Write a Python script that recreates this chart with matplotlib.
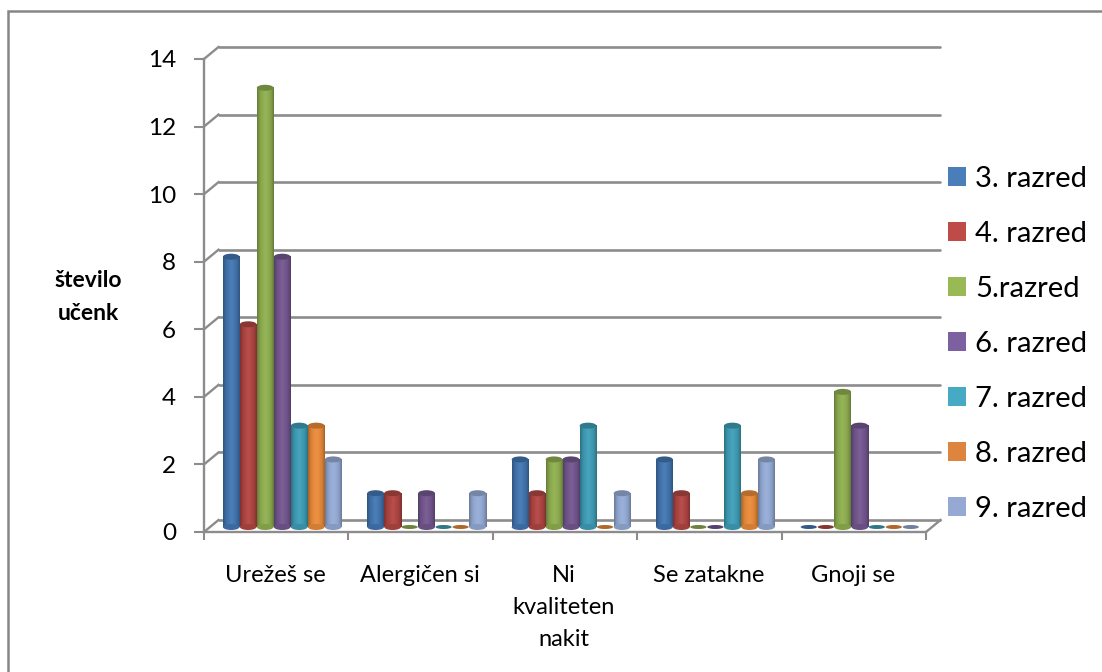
import numpy as np
import matplotlib
matplotlib.use("Agg")
import matplotlib.pyplot as plt
from matplotlib.lines import Line2D
from matplotlib.patches import Ellipse, Patch
from matplotlib.transforms import Affine2D
from matplotlib.colors import LinearSegmentedColormap, to_rgb

plt.rcParams['font.family'] = ['Lato', 'DejaVu Sans']

categories = ["Urežeš se", "Alergičen si", "Ni\nkvaliteten\nnakit", "Se zatakne", "Gnoji se"]
series_names = ["3. razred", "4. razred", "5.razred", "6. razred", "7. razred", "8. razred", "9. razred"]
razred_3 = [8, 1, 2, 2, 0]
razred_4 = [6, 1, 1, 1, 0]
razred_5 = [13, 0, 2, 0, 4]
razred_6 = [8, 1, 2, 0, 3]
razred_7 = [3, 0, 3, 3, 0]
razred_8 = [3, 0, 0, 1, 0]
razred_9 = [2, 1, 1, 2, 0]
series_values = [razred_3, razred_4, razred_5, razred_6, razred_7, razred_8, razred_9]
colors = ["#4376B0", "#B04643", "#8FAE50", "#73578F", "#3F9DB6", "#E98B3A", "#95ABD5"]
legend_colors = ["#4A7EBB", "#BE4B48", "#98B954", "#7D60A0", "#46AAC5", "#DD853E", "#95A9D2"]
yticks = list(range(0, 15, 2))
grid_color = "#8C8C8C"

W, H = 1102, 672
fig = plt.figure(figsize=(W / 100, H / 100), dpi=100, facecolor="white")
x0, x1, ytop, ybot = 204, 926, 59, 532
ax = fig.add_axes([x0 / W, 1 - ybot / H, (x1 - x0) / W, (ybot - ytop) / H])
ax.set_xlim(0, 5)
ax.set_ylim(0, 14)
ax.patch.set_alpha(0)
for s in ax.spines.values():
    s.set_visible(False)
for side in ('left', 'bottom'):
    ax.spines[side].set_visible(True)
    ax.spines[side].set_color(grid_color)
    ax.spines[side].set_linewidth(1.7)

ax.set_xticks(range(6))
ax.set_xticklabels([])
ax.set_yticks(yticks)
ax.set_yticklabels([str(v) for v in yticks], fontsize=17.5, color="black")
ax.tick_params(axis='y', length=7, width=1.5, color=grid_color, pad=13)
ax.tick_params(axis='x', length=6, width=1.5, color=grid_color)
for i, c in enumerate(categories):
    ax.annotate(c, xy=(i + 0.5, 0), xycoords='data', xytext=(-1, -33), textcoords='offset pixels',
                ha='center', va='top', fontsize=17, linespacing=1.64, color="black")


def off(dx, dy):
    return ax.transData + Affine2D().translate(dx, dy)


py = (ybot - ytop) / 14
px = (x1 - x0) / 5

# back wall gridlines and slanted connectors
back = off(14.5, 12)
for v in yticks:
    ax.plot([0, 5], [v, v], color=grid_color, lw=1.9, transform=back, clip_on=False, zorder=1,
            solid_capstyle='round')
    ax.add_line(Line2D([0, 14.5 / px], [v, v + 12 / py], color=grid_color, lw=1.7, clip_on=False, zorder=1))
ax.add_line(Line2D([5, 5 + 14.5 / px], [0, 12 / py], color=grid_color, lw=1.7, clip_on=False, zorder=1))

# cylinders
mid = off(6, 5)
bar_w = 17 / px
xs = np.arange(len(categories)) + 0.5 - bar_w * 3


def darker(c, f):
    return tuple(np.array(to_rgb(c)) * f)


def lighter(c, f):
    r = np.array(to_rgb(c))
    return tuple(r + (1 - r) * f)


for k, (vals, c) in enumerate(zip(series_values, colors)):
    cmap = LinearSegmentedColormap.from_list(
        "c", [darker(c, 0.72), darker(c, 0.92), c, lighter(c, 0.06), c, darker(c, 0.92), darker(c, 0.72)])
    grad = np.linspace(0, 1, 32)[None, :]
    for i, v in enumerate(vals):
        xc = xs[i] + k * bar_w
        if v == 0:
            ax.add_patch(Ellipse((xc, 0), bar_w * 0.95, 4 / py, facecolor=darker(c, 0.75), edgecolor='none',
                                 transform=mid, clip_on=False, zorder=3))
            continue
        ax.bar(xc, v, width=bar_w * 0.98, color=c, transform=mid, clip_on=False, zorder=3 + k * 0.01)
        ax.imshow(grad, extent=(xc - bar_w / 2, xc + bar_w / 2, 0, v), aspect='auto', cmap=cmap,
                  transform=mid, zorder=3 + k * 0.01, interpolation='bilinear', clip_on=False)
        ax.add_patch(Ellipse((xc, 0), bar_w * 0.98, 6 / py, facecolor=darker(c, 0.9), edgecolor='none',
                             transform=mid, clip_on=False, zorder=3 + k * 0.01))
        ax.add_patch(Ellipse((xc, v), bar_w * 0.98, 6 / py, facecolor=darker(c, 0.78), edgecolor='none',
                             transform=mid, clip_on=False, zorder=3.005 + k * 0.01))
ax.set_xlim(0, 5)
ax.set_ylim(0, 14)

# y-axis title
fig.text(88 / W, 1 - 297 / H, "število\nučenk", fontsize=16.5, fontweight='bold', ha='center', va='center',
         linespacing=1.73, color="black")

# legend
handles = [Patch(facecolor=lc, edgecolor='none') for lc in legend_colors]
fig.legend(handles, series_names, loc='center left', bbox_to_anchor=(948 / W, 1 - 344 / H),
           frameon=False, fontsize=21, handlelength=0.62, handleheight=0.62, handletextpad=0.31,
           labelspacing=0.995, borderpad=0, borderaxespad=0)

# outer frame (left and top only visible)
fig.add_artist(Line2D([7.5 / W, 7.5 / W, 1], [0, 1 - 11 / H, 1 - 11 / H], transform=fig.transFigure,
                      color="#868686", lw=1.8, solid_joinstyle='miter'))

fig.savefig("out.png", dpi=100, facecolor="white")
